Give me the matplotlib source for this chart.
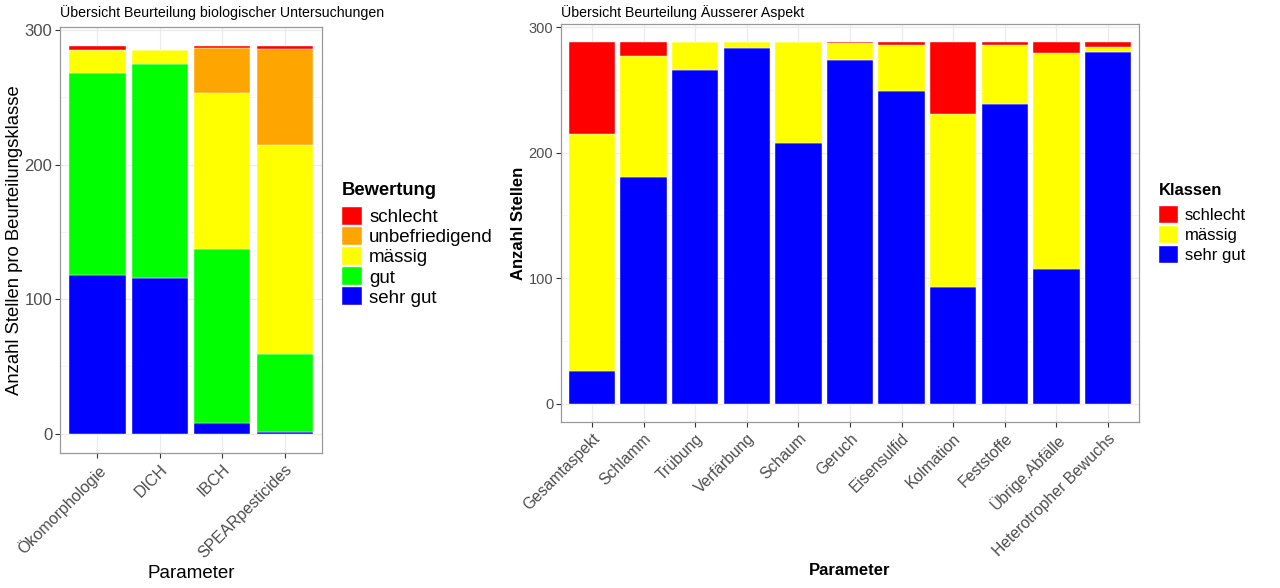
import matplotlib.pyplot as plt
import numpy as np

plt.rcParams["font.family"] = ["Liberation Sans", "DejaVu Sans"]

# left panel: biological assessments
BIO_PARAMS = ["Ökomorphologie", "DICH", "IBCH", "SPEARpesticides"]
BIO_SEHR_GUT = [118, 116, 8, 1]
BIO_GUT = [150, 159, 129, 58]
BIO_MAESSIG = [17, 10, 116, 156]
BIO_UNBEFR = [0, 0, 34, 71]
BIO_SCHLECHT = [3, 0, 1, 2]

# right panel: outer aspect
ASP_PARAMS = ["Gesamtaspekt", "Schlamm", "Trübung", "Verfärbung", "Schaum", "Geruch",
              "Eisensulfid", "Kolmation", "Feststoffe", "Übrige.Abfälle", "Heterotropher Bewuchs"]
ASP_SEHR_GUT = [26, 181, 266, 283, 208, 274, 249, 93, 239, 107, 280]
ASP_MAESSIG = [189, 96, 22, 5, 80, 13, 37, 138, 47, 172, 4]
ASP_SCHLECHT = [73, 11, 0, 0, 0, 1, 2, 57, 2, 9, 4]

COL = {"schlecht": "#FF0000", "unbefriedigend": "#FFA500", "mässig": "#FFFF00",
       "gut": "#00FF00", "sehr gut": "#0000FF"}
GREY = "#4D4D4D"
W, H = 1280, 588


def style_axes(ax, n, ymax):
    ax.set_xlim(0.4, n + 0.6)
    ax.set_ylim(-0.05 * ymax, ymax * 1.05)
    ax.set_yticks([0, 100, 200, 300])
    ax.set_yticks([50, 150, 250], minor=True)
    ax.grid(True, which="major", color="#EBEBEB", linewidth=0.9)
    ax.grid(True, which="minor", axis="y", color="#F3F3F3", linewidth=0.5)
    ax.set_axisbelow(True)
    ax.tick_params(which="minor", length=0)
    ax.tick_params(which="major", color="#333333", length=3.5, width=0.8, pad=2)
    ax.tick_params(axis="x", pad=3)
    for s in ax.spines.values():
        s.set_color("#999999")
        s.set_linewidth(0.9)


def stacked(ax, params, layers, fs):
    x = np.arange(1, len(params) + 1)
    bottom = np.zeros(len(params))
    for name, vals in layers:
        ax.bar(x, vals, width=0.9, bottom=bottom, color=COL[name], label=name,
               edgecolor="white", linewidth=0.3)
        bottom += np.array(vals)
    ax.set_xticks(x)
    ax.set_xticklabels(params, rotation=45, ha="right", va="top",
                       rotation_mode="anchor", color=GREY, fontsize=fs)


def legend(ax, title, fs, tfs, xoff, yoff, hh, sp):
    h, l = ax.get_legend_handles_labels()
    leg = ax.legend(h[::-1], l[::-1], title=title, loc="center left",
                    bbox_to_anchor=(xoff, yoff), frameon=False, fontsize=fs,
                    title_fontproperties={"weight": "bold", "size": tfs},
                    handlelength=hh, handleheight=hh, handletextpad=0.4,
                    labelspacing=sp, borderaxespad=0, borderpad=0)
    leg._legend_box.align = "left"
    leg._legend_box.sep = 6


fig = plt.figure(figsize=(W / 100, H / 100), dpi=100)

# left
ax1 = fig.add_axes([60 / W, 1 - 453 / H, 262 / W, 426 / H])
stacked(ax1, BIO_PARAMS, [("sehr gut", BIO_SEHR_GUT), ("gut", BIO_GUT), ("mässig", BIO_MAESSIG),
                          ("unbefriedigend", BIO_UNBEFR), ("schlecht", BIO_SCHLECHT)], 11.5)
style_axes(ax1, len(BIO_PARAMS), 288)
ax1.tick_params(axis="y", labelsize=12, labelcolor=GREY)
ax1.set_xlabel("Parameter", fontsize=13.5, labelpad=3)
ax1.set_ylabel("Anzahl Stellen pro Beurteilungsklasse", fontsize=13.3, labelpad=1)
ax1.set_title("Übersicht Beurteilung biologischer Untersuchungen", fontsize=10.2, loc="left", pad=7)
legend(ax1, "Bewertung", 13.5, 13.2, 1 + 20 / 262, 0.49, 1.05, 0.05)

# right
ax2 = fig.add_axes([561 / W, 1 - 422 / H, 578 / W, 398 / H])
stacked(ax2, ASP_PARAMS, [("sehr gut", ASP_SEHR_GUT), ("mässig", ASP_MAESSIG),
                          ("schlecht", ASP_SCHLECHT)], 11.3)
style_axes(ax2, len(ASP_PARAMS), 288)
ax2.tick_params(axis="y", labelsize=10.5, labelcolor=GREY)
ax2.set_xlabel("Parameter", fontsize=12, fontweight="bold", labelpad=3)
ax2.set_ylabel("Anzahl Stellen", fontsize=12, fontweight="bold", labelpad=2)
ax2.set_title("Übersicht Beurteilung Äusserer Aspekt", fontsize=10.2, loc="left", pad=5)
legend(ax2, "Klassen", 12, 12, 1 + 20 / 578, 0.5, 1.15, 0.2)

fig.savefig("out.png", dpi=100)
